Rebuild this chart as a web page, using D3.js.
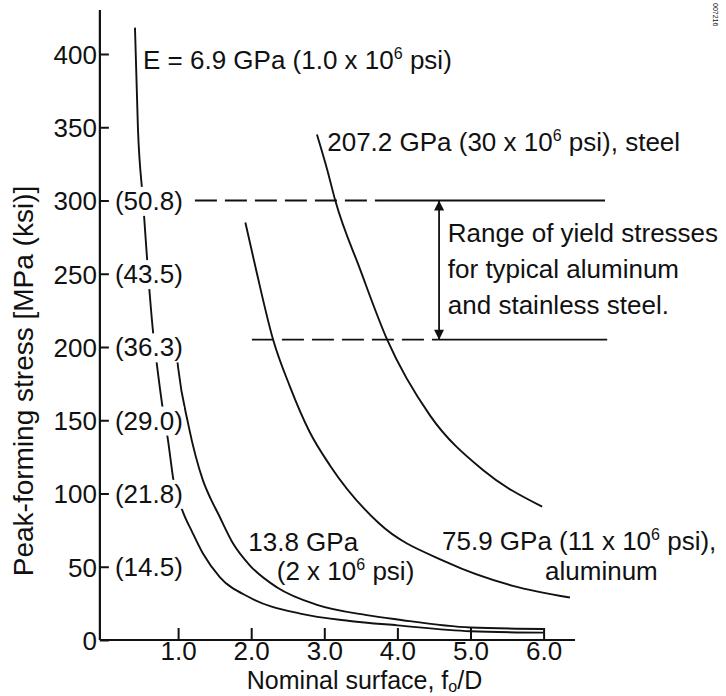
<!DOCTYPE html>
<html>
<head>
<meta charset="utf-8">
<script src="https://cdn.jsdelivr.net/npm/d3@7"></script>
<style>
  html, body { margin: 0; padding: 0; background: #fff; }
  svg { display: block; }
  text { font-family: "Liberation Sans", Arial, Helvetica, sans-serif; fill: #111; }
</style>
</head>
<body>
<svg id="chart" width="726" height="696"></svg>
<script>
// Axis ticks
const stressTicks = [0, 50, 100, 150, 200, 250, 300, 350, 400];   // MPa
const ksiTicks = [50, 100, 150, 200, 250, 300];
const ksiLabels = ["(14.5)", "(21.8)", "(29.0)", "(36.3)", "(43.5)", "(50.8)"];
const surfaceTicks = [1, 2, 3, 4, 5, 6];

// Peak-forming stress (MPa) against nominal surface f_o/D, one curve per modulus
const curveE69 = [[0.41, 418], [0.45, 350], [0.52, 300], [0.59, 250], [0.66, 209], [0.71, 188],
  [0.79, 158], [0.86, 137], [0.94, 108], [1.07, 87], [1.19, 74], [1.34, 59], [1.57, 43],
  [1.98, 29], [2.67, 18], [3.35, 13], [4.0, 10], [5.0, 6], [6.0, 5]];
const curveE138 = [[0.97, 200], [1.0, 186], [1.14, 147], [1.34, 109], [1.44, 97], [1.55, 86],
  [1.75, 66], [1.98, 51], [2.35, 36], [2.90, 24], [3.58, 17], [4.0, 14], [5.0, 8.5], [6.0, 7.5]];
const curveE759 = [[1.92, 285], [2.07, 252], [2.30, 205], [2.53, 173], [2.80, 142], [3.08, 119],
  [3.74, 80], [4.68, 53], [5.58, 37], [6.36, 29]];
const curveE2072 = [[2.90, 345], [3.04, 321], [3.15, 300], [3.49, 253], [3.86, 205], [4.45, 153],
  [5.17, 116], [5.98, 91]];

// Yield stress band for aluminum and stainless steel (MPa): dashed part, then solid part
const yieldLevels = [300, 205];
const yieldDashStart = [1.23, 2.01];
const yieldSolidStart = [3.83, 4.56];
const yieldEnd = [6.84, 6.87];
const yieldArrowAt = 4.57;

const svg = d3.select("#chart");
const x = d3.scaleLinear().domain([0, 6]).range([105, 543.6]);
const y = d3.scaleLinear().domain([0, 400]).range([640, 54]);
const xAxisFrom = -0.07, xAxisTo = 6.43, yAxisTop = 430;

const FS = 26;

// axis lines
svg.append("line")
  .attr("x1", x(xAxisFrom)).attr("x2", x(xAxisFrom))
  .attr("y1", y(0)).attr("y2", y(yAxisTop))
  .attr("stroke", "#111").attr("stroke-width", 2.2);
svg.append("line")
  .attr("x1", x(xAxisFrom)).attr("x2", x(xAxisTo))
  .attr("y1", y(0)).attr("y2", y(0))
  .attr("stroke", "#111").attr("stroke-width", 2.2);

// y axis (ticks pointing inward, labels to the left)
const yAxis = d3.axisLeft(y).tickValues(stressTicks).tickSizeInner(-9).tickSizeOuter(0);
const gy = svg.append("g").attr("transform", `translate(${x(xAxisFrom)},0)`).call(yAxis);
gy.select(".domain").remove();
gy.attr("font-family", null).attr("font-size", null);
gy.selectAll(".tick line").attr("stroke", "#111").attr("stroke-width", 2);
gy.selectAll(".tick text").attr("x", -3).attr("dy", "0.36em")
  .style("font-size", FS + "px").attr("fill", "#111");

// x axis (ticks pointing up)
const xAxis = d3.axisBottom(x).tickValues(surfaceTicks).tickSizeInner(-12).tickSizeOuter(0)
  .tickFormat(d3.format(".1f"));
const gx = svg.append("g").attr("transform", `translate(0,${y(0)})`).call(xAxis);
gx.select(".domain").remove();
gx.attr("font-family", null).attr("font-size", null);
gx.selectAll(".tick line").attr("stroke", "#111").attr("stroke-width", 2);
gx.selectAll(".tick text").attr("y", 20).attr("dy", null)
  .style("font-size", FS + "px").attr("fill", "#111");

// yield stress reference lines
const refG = svg.append("g").attr("stroke", "#111").attr("stroke-width", 1.8);
yieldLevels.forEach((v, i) => {
  refG.append("line")
    .attr("x1", x(yieldDashStart[i])).attr("x2", x(yieldSolidStart[i]))
    .attr("y1", y(v)).attr("y2", y(v))
    .attr("stroke-dasharray", "22,8");
  refG.append("line")
    .attr("x1", x(yieldSolidStart[i])).attr("x2", x(yieldEnd[i]))
    .attr("y1", y(v)).attr("y2", y(v));
});

// double-headed arrow spanning the yield band
const defs = svg.append("defs");
defs.append("marker").attr("id", "arrowHead")
  .attr("viewBox", "0 0 10 10").attr("refX", 10).attr("refY", 5)
  .attr("markerWidth", 14).attr("markerHeight", 10).attr("markerUnits", "userSpaceOnUse")
  .attr("orient", "auto-start-reverse")
  .append("path").attr("d", "M0,0 L10,5 L0,10 Z").attr("fill", "#111");
svg.append("line")
  .attr("x1", x(yieldArrowAt)).attr("x2", x(yieldArrowAt))
  .attr("y1", y(yieldLevels[1])).attr("y2", y(yieldLevels[0]))
  .attr("stroke", "#111").attr("stroke-width", 1.8)
  .attr("marker-start", "url(#arrowHead)").attr("marker-end", "url(#arrowHead)");

// stress curves
const line = d3.line().x(d => x(d[0])).y(d => y(d[1])).curve(d3.curveMonotoneX);
[curveE69, curveE138, curveE759, curveE2072].forEach(c => {
  svg.append("path").datum(c).attr("d", line)
    .attr("fill", "none").attr("stroke", "#111").attr("stroke-width", 1.9);
});

// ksi equivalents, set on white boxes that interrupt the curves
const ksiG = svg.append("g");
ksiTicks.forEach((v, i) => {
  const g = ksiG.append("g");
  const t = g.append("text")
    .attr("x", x(xAxisFrom) + 15).attr("y", y(v)).attr("dy", "0.36em")
    .style("font-size", FS + "px")
    .text(ksiLabels[i]);
  const b = t.node().getBBox();
  g.insert("rect", "text")
    .attr("x", b.x - 2).attr("y", b.y + 1)
    .attr("width", b.width + 3).attr("height", b.height - 1)
    .attr("fill", "#fff");
});

// text with superscript / subscript helper
function richText(px, py, parts, size) {
  const t = svg.append("text").attr("x", px).attr("y", py).style("font-size", size + "px");
  let shift = 0;
  parts.forEach(p => {
    const target = p.sup ? -10 : p.sub ? 3 : 0;
    const ts = t.append("tspan").attr("dy", target - shift).text(p.t);
    if (p.sup || p.sub) ts.style("font-size", Math.round(size * 0.62) + "px");
    shift = target;
  });
  return t;
}

richText(x(0.52), y(390), [{t: "E = 6.9 GPa (1.0 x 10"}, {t: "6", sup: true}, {t: " psi)"}], FS);
richText(x(3.04), y(334), [{t: "207.2 GPa (30 x 10"}, {t: "6", sup: true}, {t: " psi), steel"}], FS);
richText(x(1.96), y(61), [{t: "13.8 GPa"}], FS);
richText(x(2.35), y(41), [{t: "(2 x 10"}, {t: "6", sup: true}, {t: " psi)"}], FS);
richText(x(4.61), y(61.5), [{t: "75.9 GPa (11 x 10"}, {t: "6", sup: true}, {t: " psi),"}], FS);
richText(x(6.02), y(41), [{t: "aluminum"}], FS);

const rangeLines = ["Range of yield stresses", "for typical aluminum", "and stainless steel."];
rangeLines.forEach((s, i) => {
  svg.append("text").attr("x", x(4.69)).attr("y", y(272) + i * 36)
    .style("font-size", FS + "px").text(s);
});

// axis titles
richText(x(1.94), 689, [{t: "Nominal surface, f"}, {t: "o", sub: true}, {t: "/D"}], 25);
svg.append("text")
  .attr("transform", "translate(33,381) rotate(-90)")
  .attr("text-anchor", "middle")
  .style("font-size", "28px")
  .text("Peak-forming stress [MPa (ksi)]");

// figure number
svg.append("text")
  .attr("transform", "translate(713,3) rotate(90)")
  .style("font-size", "7px").attr("fill", "#666")
  .text("007216");
</script>
</body>
</html>
